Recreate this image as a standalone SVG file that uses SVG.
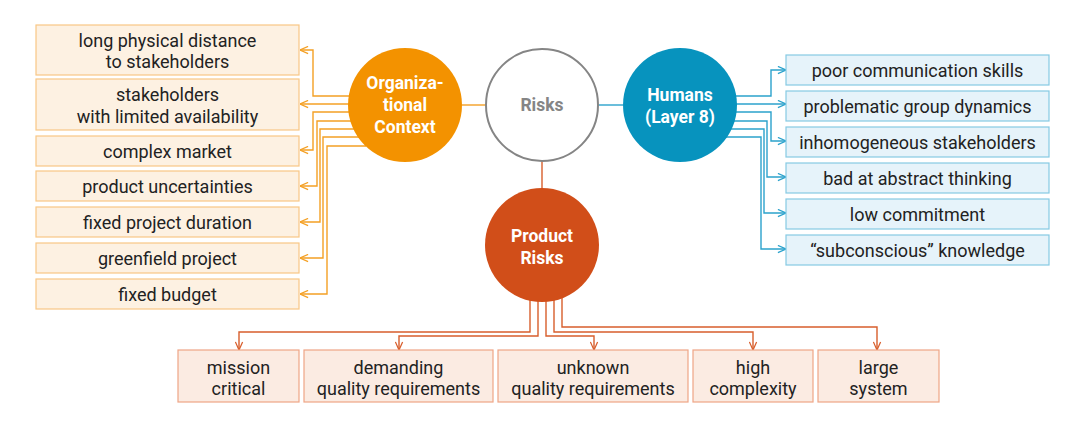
<svg xmlns="http://www.w3.org/2000/svg" width="1090" height="445" viewBox="0 0 1090 445">
<style>
text{font-family:Roboto,"Liberation Sans",sans-serif;text-anchor:middle;dominant-baseline:central}
.bt{font-size:18px;fill:#222}
.ct{font-size:17.5px;font-weight:bold;fill:#fff}
.ob{fill:#FDF1E2;stroke:#F8C785;stroke-width:1.2}
.hb{fill:#E6F3FA;stroke:#86CAE3;stroke-width:1.2}
.pb{fill:#FBEBE2;stroke:#EFA586;stroke-width:1.2}
.oc{fill:none;stroke:#F4A024;stroke-width:1.4}
.hc{fill:none;stroke:#2BA2CC;stroke-width:1.4}
.pc{fill:none;stroke:#D85E2C;stroke-width:1.4}
</style>
<defs>
<marker id="ao" viewBox="0 0 10 10" refX="10" refY="5" markerWidth="9" markerHeight="9" markerUnits="userSpaceOnUse" orient="auto"><path d="M1,1 L10,5 L1,9" fill="none" stroke="#F4A024" stroke-width="1.4"/></marker>
<marker id="ah" viewBox="0 0 10 10" refX="10" refY="5" markerWidth="9" markerHeight="9" markerUnits="userSpaceOnUse" orient="auto"><path d="M1,1 L10,5 L1,9" fill="none" stroke="#2BA2CC" stroke-width="1.4"/></marker>
<marker id="ap" viewBox="0 0 10 10" refX="10" refY="5" markerWidth="9" markerHeight="9" markerUnits="userSpaceOnUse" orient="auto"><path d="M1,1 L10,5 L1,9" fill="none" stroke="#D85E2C" stroke-width="1.4"/></marker>
</defs>
<g id="connectors">
<line x1="462" y1="105" x2="486" y2="105" class="oc"/>
<line x1="599" y1="105" x2="623" y2="105" class="hc"/>
<line x1="542" y1="161" x2="542" y2="188" class="pc"/>
<g marker-end="url(#ao)">
<path class="oc" d="M354,96 H313 V50 H300"/>
<path class="oc" d="M350,104 H300"/>
<path class="oc" d="M350,112 H313 V150 H300"/>
<path class="oc" d="M352,121 H317 V186 H300"/>
<path class="oc" d="M355,129 H320 V222 H300"/>
<path class="oc" d="M360,137 H323 V258 H300"/>
<path class="oc" d="M366,146 H327 V294 H300"/>
</g>
<g marker-end="url(#ah)">
<path class="hc" d="M731,96 H771 V70 H786"/>
<path class="hc" d="M735,104 H786"/>
<path class="hc" d="M735,112 H771 V141 H786"/>
<path class="hc" d="M733,121 H767 V177 H786"/>
<path class="hc" d="M730,129 H764 V213 H786"/>
<path class="hc" d="M725,137 H761 V249 H786"/>
</g>
<g marker-end="url(#ap)">
<path class="pc" d="M530,298 V332 H239 V350"/>
<path class="pc" d="M538,301 V336 H399 V350"/>
<path class="pc" d="M546,301 V336 H594 V350"/>
<path class="pc" d="M554,300 V332 H753 V350"/>
<path class="pc" d="M562,298 V327 H877 V350"/>
</g>
</g>
<g id="risks"><circle cx="542" cy="105" r="56" fill="#fff" stroke="#858585" stroke-width="2"/><text x="542" y="105" font-size="17.5" font-weight="bold" fill="#858585">Risks</text></g>
<g id="org"><circle cx="405" cy="105" r="57" fill="#F39200"/><text class="ct" x="405" y="83">Organiza-</text><text class="ct" x="405" y="105">tional</text><text class="ct" x="405" y="127">Context</text></g>
<g id="humans"><circle cx="680" cy="105" r="57" fill="#0793BE"/><text class="ct" x="680" y="95">Humans</text><text class="ct" x="680" y="117">(Layer 8)</text></g>
<g id="product"><circle cx="542" cy="245" r="57" fill="#D14E19"/><text class="ct" x="542" y="236">Product</text><text class="ct" x="542" y="258">Risks</text></g>
<g id="o1"><rect class="ob" x="36" y="25" width="263" height="50"/><text class="bt" x="167.5" y="40">long physical distance</text><text class="bt" x="167.5" y="61">to stakeholders</text></g>
<g id="o2"><rect class="ob" x="36" y="79" width="263" height="51"/><text class="bt" x="167.5" y="94">stakeholders</text><text class="bt" x="167.5" y="116">with limited availability</text></g>
<g id="o3"><rect class="ob" x="36" y="136" width="263" height="30"/><text class="bt" x="167.5" y="151">complex market</text></g>
<g id="o4"><rect class="ob" x="36" y="171" width="263" height="30"/><text class="bt" x="167.5" y="186">product uncertainties</text></g>
<g id="o5"><rect class="ob" x="36" y="207" width="263" height="30"/><text class="bt" x="167.5" y="222">fixed project duration</text></g>
<g id="o6"><rect class="ob" x="36" y="243" width="263" height="30"/><text class="bt" x="167.5" y="258">greenfield project</text></g>
<g id="o7"><rect class="ob" x="36" y="279" width="263" height="30"/><text class="bt" x="167.5" y="294">fixed budget</text></g>
<g id="h1"><rect class="hb" x="786" y="55" width="263" height="30"/><text class="bt" x="917.5" y="70">poor communication skills</text></g>
<g id="h2"><rect class="hb" x="786" y="91" width="263" height="30"/><text class="bt" x="917.5" y="106">problematic group dynamics</text></g>
<g id="h3"><rect class="hb" x="786" y="127" width="263" height="30"/><text class="bt" x="917.5" y="142">inhomogeneous stakeholders</text></g>
<g id="h4"><rect class="hb" x="786" y="163" width="263" height="30"/><text class="bt" x="917.5" y="178">bad at abstract thinking</text></g>
<g id="h5"><rect class="hb" x="786" y="199" width="263" height="30"/><text class="bt" x="917.5" y="214">low commitment</text></g>
<g id="h6"><rect class="hb" x="786" y="235" width="263" height="30"/><text class="bt" x="917.5" y="250">“subconscious” knowledge</text></g>
<g id="p1"><rect class="pb" x="178" y="350" width="121" height="52"/><text class="bt" x="238.5" y="367">mission</text><text class="bt" x="238.5" y="388">critical</text></g>
<g id="p2"><rect class="pb" x="304" y="350" width="189" height="52"/><text class="bt" x="398.5" y="367">demanding</text><text class="bt" x="398.5" y="388">quality requirements</text></g>
<g id="p3"><rect class="pb" x="498" y="350" width="190" height="52"/><text class="bt" x="593" y="367">unknown</text><text class="bt" x="593" y="388">quality requirements</text></g>
<g id="p4"><rect class="pb" x="693" y="350" width="120" height="52"/><text class="bt" x="753" y="367">high</text><text class="bt" x="753" y="388">complexity</text></g>
<g id="p5"><rect class="pb" x="818" y="350" width="121" height="52"/><text class="bt" x="878.5" y="367">large</text><text class="bt" x="878.5" y="388">system</text></g>
</svg>
